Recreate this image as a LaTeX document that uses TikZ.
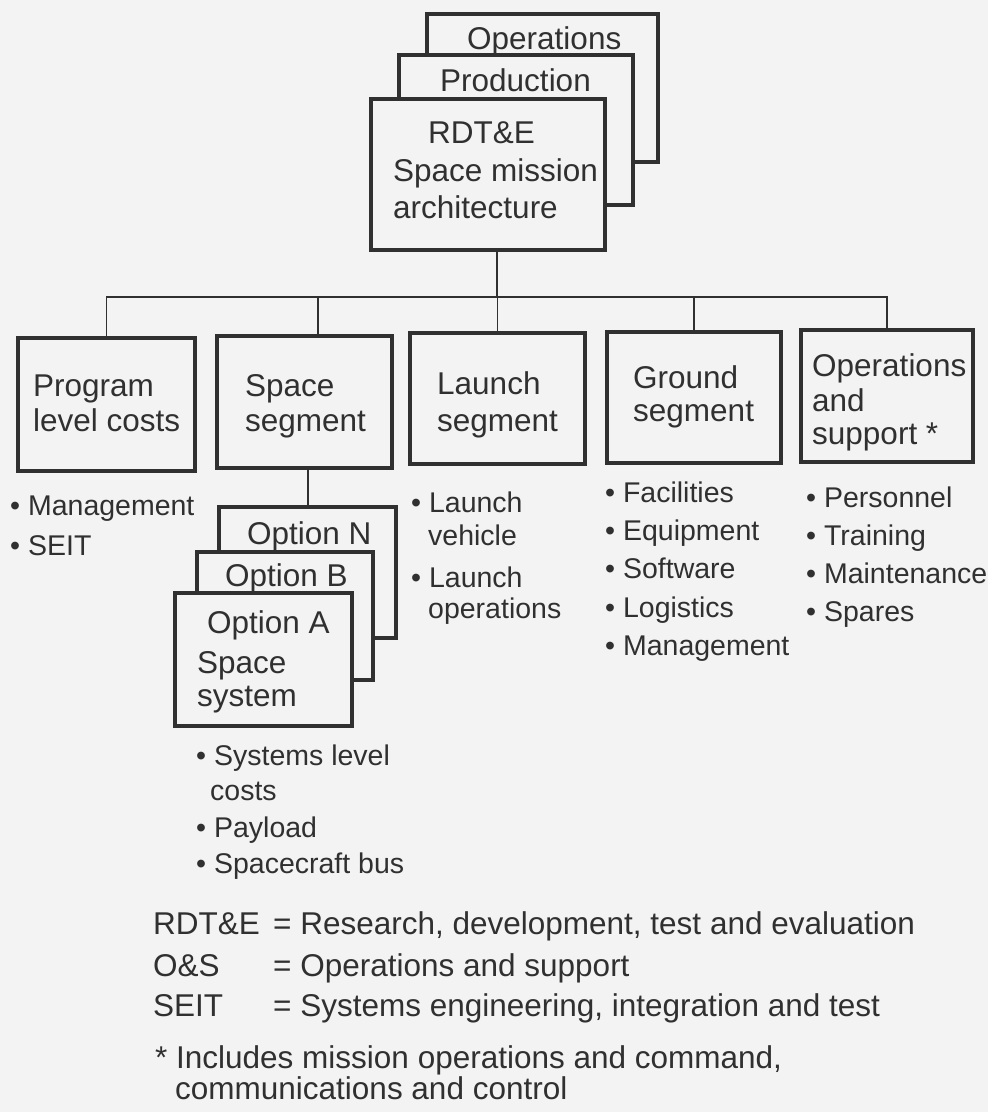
\documentclass[tikz,border=0pt]{standalone}
\usepackage{fontspec}
\setmainfont{Liberation Sans}
\definecolor{ink}{HTML}{303030}
\definecolor{paper}{HTML}{F3F3F3}
\begin{document}
\begin{tikzpicture}[x=1pt,y=-1pt]
\tikzset{
 box/.style={draw=ink, line width=3.8pt, fill=paper, inner sep=0pt, outer sep=0pt, anchor=north west},
 lbl/.style={anchor=base west, inner sep=0pt, text=ink, font=\fontsize{31.5}{36}\selectfont},
 itm/.style={anchor=base west, inner sep=0pt, text=ink, font=\fontsize{28.5}{34}\selectfont},
 wire/.style={draw=ink, line width=1.4pt}
}
\path[use as bounding box, fill=paper] (0,0) rectangle (988,1112);

% top stack
\node[box, minimum width=231pt, minimum height=148pt] (ops) at (427,14) {};
\node[lbl] (opsT) at (467,49) {Operations};
\node[box, minimum width=234pt, minimum height=150pt] (prod) at (399,55) {};
\node[lbl] (prodT) at (440,91) {Production};
\node[box, minimum width=234pt, minimum height=151pt] (rdte) at (371,99) {};
\node[lbl] (rdteT1) at (428,143) {RDT\&E};
\node[lbl] (rdteT2) at (393,181) {Space mission};
\node[lbl] (rdteT3) at (393,218) {architecture};

% second level
\node[box, minimum width=177pt, minimum height=133pt] (prog) at (18,338) {};
\node[lbl] (progT1) at (33,396) {Program};
\node[lbl] (progT2) at (33,431) {level costs};
\node[box, minimum width=175pt, minimum height=132pt] (space) at (217,336) {};
\node[lbl] (spaceT1) at (245,396) {Space};
\node[lbl] (spaceT2) at (245,431) {segment};
\node[box, minimum width=175pt, minimum height=131pt] (launch) at (410,333) {};
\node[lbl] (launchT1) at (437,394) {Launch};
\node[lbl] (launchT2) at (437,431) {segment};
\node[box, minimum width=174pt, minimum height=131pt] (ground) at (607,332) {};
\node[lbl] (groundT1) at (633,388) {Ground};
\node[lbl] (groundT2) at (633,421) {segment};
\node[box, minimum width=172pt, minimum height=132pt] (opsup) at (801,330) {};
\node[lbl] (opsupT1) at (812,376) {Operations};
\node[lbl] (opsupT2) at (812,411) {and};
\node[lbl] (opsupT3) at (812,444) {support *};

% option stack
\node[box, minimum width=177pt, minimum height=131pt] (optN) at (219,507) {};
\node[lbl] (optNT) at (247,544) {Option N};
\node[box, minimum width=176pt, minimum height=128pt] (optB) at (197,552) {};
\node[lbl] (optBT) at (225,586) {Option B};
\node[box, minimum width=177pt, minimum height=133pt] (optA) at (175,593) {};
\node[lbl] (optAT1) at (207,633) {Option A};
\node[lbl] (optAT2) at (197,673) {Space};
\node[lbl] (optAT3) at (197,706) {system};

% connectors
\coordinate (bus) at (497,297);
\coordinate (spx) at (318,297);
\coordinate (opx) at (308,297);
\draw[wire] (rdte.south -| bus) -- (bus);
\draw[wire] (prog.north) |- (opsup.north |- bus) -- (opsup.north);
\draw[wire] (space.north -| spx) -- (spx);
\draw[wire] (launch.north) -- (launch.north |- bus);
\draw[wire] (ground.north) -- (ground.north |- bus);
\draw[wire] (space.south -| opx) -- (optN.north -| opx);

% item lists
\node[itm] (pl1) at (10,515) {• Management};
\node[itm] (pl2) at (10,555) {• SEIT};

\node[itm] (ll1) at (411,512) {• Launch};
\node[itm] (ll1b) at (428,545) {vehicle};
\node[itm] (ll2) at (411,587) {• Launch};
\node[itm] (ll2b) at (428,618) {operations};

\node[itm] (gl1) at (605,502) {• Facilities};
\node[itm] (gl2) at (605,540) {• Equipment};
\node[itm] (gl3) at (605,578) {• Software};
\node[itm] (gl4) at (605,617) {• Logistics};
\node[itm] (gl5) at (605,655) {• Management};

\node[itm] (ol1) at (806,507) {• Personnel};
\node[itm] (ol2) at (806,545) {• Training};
\node[itm] (ol3) at (806,583) {• Maintenance};
\node[itm] (ol4) at (806,621) {• Spares};

\node[itm] (sl1) at (196,765) {• Systems level};
\node[itm] (sl1b) at (210,800) {costs};
\node[itm] (sl2) at (196,837) {• Payload};
\node[itm] (sl3) at (196,873) {• Spacecraft bus};

% legend
\node[lbl] (lg1a) at (153,934) {RDT\&E};
\node[lbl] (lg1b) at (273,934) {= Research, development, test and evaluation};
\node[lbl] (lg2a) at (153,976) {O\&S};
\node[lbl] (lg2b) at (273,976) {= Operations and support};
\node[lbl] (lg3a) at (153,1016) {SEIT};
\node[lbl] (lg3b) at (273,1016) {= Systems engineering, integration and test};
\node[lbl] (nt1) at (155,1068) {* Includes mission operations and command,};
\node[lbl] (nt2) at (175,1099) {communications and control};
\end{tikzpicture}
\end{document}
